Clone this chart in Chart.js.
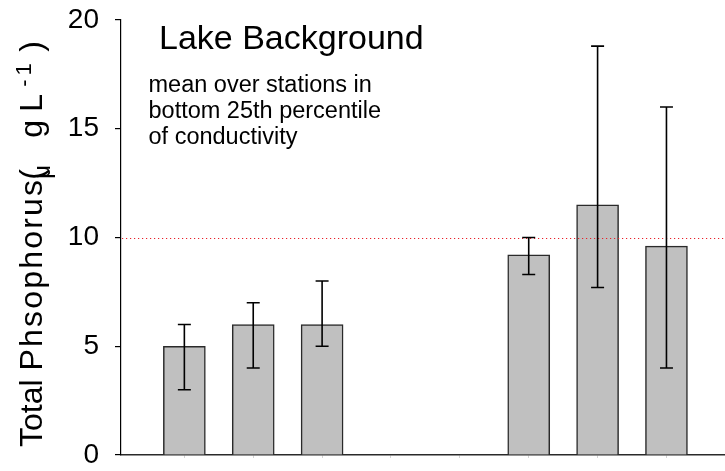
<!DOCTYPE html>
<html>
<head>
<meta charset="utf-8">
<script src="https://cdn.jsdelivr.net/npm/chart.js@4/dist/chart.umd.min.js"></script>
<style>
  html, body { margin: 0; padding: 0; background: #fff; }
  #wrap { width: 725px; height: 471px; position: relative; }
</style>
</head>
<body>
<div id="wrap"><canvas id="tp"></canvas></div>
<script>
// Station slots along the x axis (slots 4 and 5 have no samples)
const slots = [1, 2, 3, 4, 5, 6, 7, 8];
// Mean total phosphorus (µg/L) per slot
const meanTP = [5, 6, 6, null, null, 9.2, 11.5, 9.6];
// Lower and upper ends of the error bars
const lowTP = [3, 4, 5, null, null, 8.3, 7.7, 4];
const highTP = [6, 7, 8, null, null, 10, 18.8, 16];
// Value-axis ticks
const yTicks = [0, 5, 10, 15, 20];
// Background reference level
const referenceTP = [10];
// Annotation text
const heading = 'Lake Background';
const noteLines = ['mean over stations in', 'bottom 25th percentile', 'of conductivity'];

const FONT = '"Liberation Sans", Arial, Helvetica, sans-serif';

// Dotted reference line plus error bars, drawn over the bars
const overlays = {
  id: 'overlays',
  afterDatasetsDraw(chart) {
    const { ctx, chartArea, scales: { x, y } } = chart;
    ctx.save();
    // reference level
    ctx.strokeStyle = '#e8202a';
    ctx.lineWidth = 1;
    ctx.setLineDash([1.2, 2.8]);
    referenceTP.forEach(v => {
      const py = Math.round(y.getPixelForValue(v)) + 0.5;
      ctx.beginPath();
      ctx.moveTo(chartArea.left + 1, py);
      ctx.lineTo(chartArea.right, py);
      ctx.stroke();
    });
    ctx.setLineDash([]);
    // error bars
    ctx.strokeStyle = '#000';
    ctx.lineWidth = 1.6;
    slots.forEach((s, i) => {
      if (meanTP[i] == null) return;
      const px = x.getPixelForValue(s);
      const lo = y.getPixelForValue(lowTP[i]);
      const hi = y.getPixelForValue(highTP[i]);
      ctx.beginPath();
      ctx.moveTo(px, lo); ctx.lineTo(px, hi);
      ctx.moveTo(px - 6.5, lo); ctx.lineTo(px + 6.5, lo);
      ctx.moveTo(px - 6.5, hi); ctx.lineTo(px + 6.5, hi);
      ctx.stroke();
    });
    ctx.restore();
  }
};

// draw a string one glyph at a time with extra spacing; returns the end position
function spaced(ctx, text, x, y, gap) {
  for (const ch of text) {
    ctx.fillText(ch, x, y);
    x += ctx.measureText(ch).width + gap;
  }
  return x;
}

// Heading, note and rotated axis title with micro sign and superscript
const labels = {
  id: 'labels',
  afterDraw(chart) {
    const { ctx } = chart;
    ctx.save();
    ctx.fillStyle = '#000';
    ctx.textAlign = 'left';
    ctx.textBaseline = 'alphabetic';
    ctx.font = '34px ' + FONT;
    ctx.fillText(heading, 159, 49);
    ctx.font = '23.5px ' + FONT;
    noteLines.forEach((t, i) => ctx.fillText(t, 148.5, 91.5 + i * 26));

    // y axis title, reading bottom to top
    ctx.translate(42, 447);
    ctx.rotate(-Math.PI / 2);
    const big = '32px ' + FONT;
    ctx.font = big;
    ctx.fillText('Total ', 0, 0);
    let cx = ctx.measureText('Total ').width;
    cx = spaced(ctx, 'Phsophorus', cx, 0, 2.2);
    ctx.fillText('(', cx - 2, 0);
    ctx.font = '24px ' + FONT;
    ctx.fillText('\u03bc', cx - 1, 8);
    ctx.font = big;
    ctx.fillText('g', cx + 40, 0);
    ctx.fillText('L', cx + 66, 0);
    ctx.font = '22px ' + FONT;
    spaced(ctx, '-1', cx + 91, -11, 4);
    ctx.font = big;
    ctx.fillText(')', cx + 126, 0);
    ctx.restore();
  }
};

new Chart(document.getElementById('tp'), {
  type: 'bar',
  data: {
    datasets: [{
      data: slots.map((s, i) => ({ x: s, y: meanTP[i] })),
      backgroundColor: '#c0c0c0',
      borderColor: '#2a2a2a',
      borderWidth: 1.5,
      barThickness: 42
    }]
  },
  options: {
    responsive: true,
    maintainAspectRatio: false,
    animation: false,
    layout: { padding: { top: 20, right: 0, bottom: 0, left: 0 } },
    plugins: {
      legend: { display: false },
      tooltip: { enabled: false }
    },
    scales: {
      x: {
        type: 'linear',
        offset: false,
        min: 0.08,
        max: 8.85,
        afterBuildTicks(scale) { scale.ticks = slots.map(v => ({ value: v })); },
        afterFit(scale) { scale.height = 16; scale.paddingLeft = 0; scale.paddingRight = 0; },
        ticks: { display: false },
        grid: { display: true, offset: false, drawOnChartArea: false, drawTicks: true, tickLength: 3, color: '#d4d4d4', lineWidth: 1 },
        border: { display: true, color: '#2a2a2a', width: 1.5 }
      },
      y: {
        min: 0,
        max: 20,
        afterBuildTicks(scale) { scale.ticks = yTicks.map(v => ({ value: v })); },
        afterFit(scale) { scale.width = 121; scale.paddingTop = 0; scale.paddingBottom = 0; },
        ticks: { color: '#000', font: { family: FONT, size: 28 }, padding: 16 },
        grid: { display: true, drawOnChartArea: false, drawTicks: true, tickLength: 6, color: '#000', lineWidth: 1.2 },
        border: { display: true, color: '#000', width: 1.2 }
      }
    }
  },
  plugins: [overlays, labels]
});
</script>
</body>
</html>
